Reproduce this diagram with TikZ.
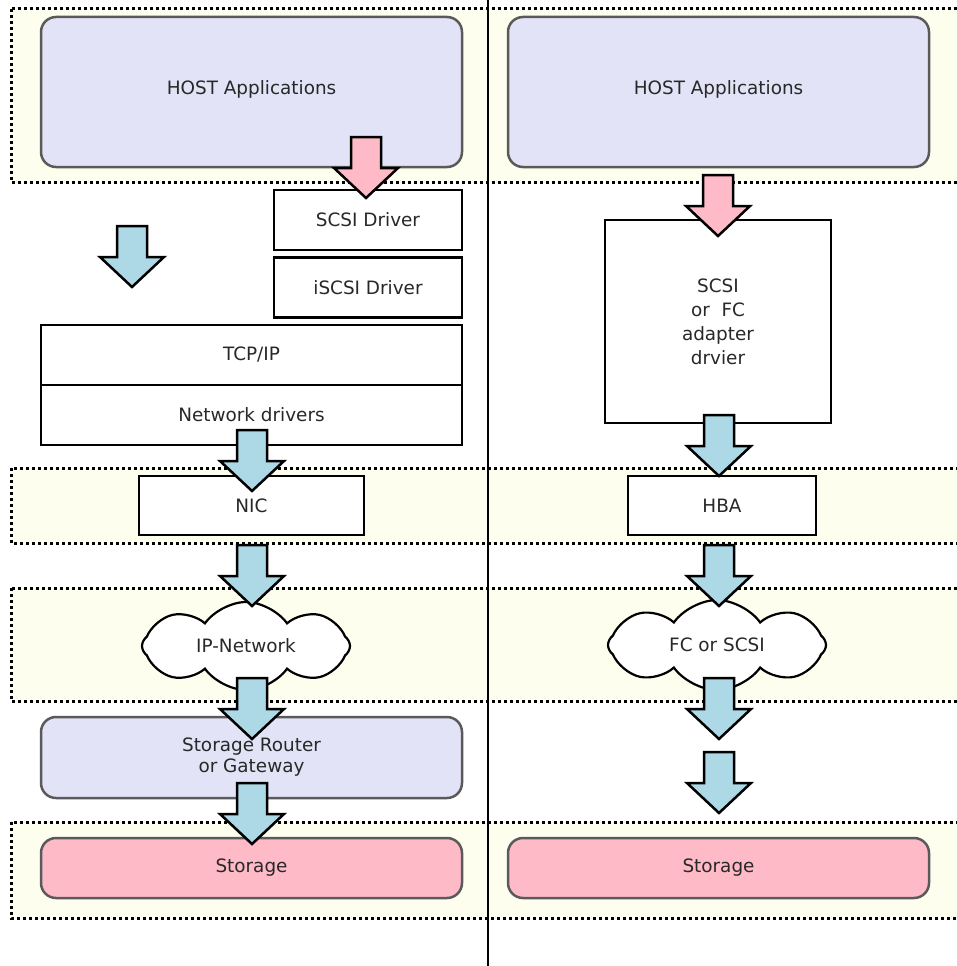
\documentclass[tikz,border=0pt]{standalone}
\usepackage{fontspec}
\setmainfont{DejaVu Sans}
\usetikzlibrary{shapes.symbols}
\definecolor{bandfill}{RGB}{254,254,238}
\definecolor{hostfill}{RGB}{227,227,247}
\definecolor{storefill}{RGB}{255,186,200}
\definecolor{arrowpink}{RGB}{255,186,200}
\definecolor{arrowblue}{RGB}{173,216,230}
\definecolor{roundedge}{RGB}{90,90,90}
\definecolor{labeltext}{RGB}{40,40,40}
\tikzset{
  pics/downarrow/.style={code={
    \draw[line width=2.5pt, fill=#1, miter limit=10]
      (-15,0) -- (15,0) -- (15,31) -- (32,31) -- (0,61) -- (-32,31) -- (-15,31) -- cycle;}}
}
\begin{document}
\begin{tikzpicture}[x=1pt,y=-1pt,
  every node/.style={font=\fontsize{18.4}{21}\selectfont, text=labeltext, inner sep=0pt, outer sep=0pt},
  band/.style={fill=bandfill, draw=black, line width=3pt, dash pattern=on 3pt off 3pt},
  softbox/.style={draw=roundedge, line width=2.5pt, rounded corners=15pt, align=center},
  layerbox/.style={draw=black, line width=2.5pt, fill=white, align=center},
  netcloud/.style={cloud, cloud puffs=8, cloud puff arc=110, aspect=2.4, draw=black, line width=2.2pt, fill=white}
]
\useasboundingbox (0,0) rectangle (957,966);
\fill[white] (0,0) rectangle (957,966);

% layer bands
\path[band] (11,9) rectangle (965,182);
\path[band] (11,468) rectangle (965,543);
\path[band] (11,588) rectangle (965,701);
\path[band] (11,822) rectangle (965,918);

% divider between the two stacks
\coordinate (divtop) at (488,0);
\coordinate (divbot) at (488,966);
\draw[line width=2.5pt] (divtop) -- (divbot);

% iSCSI stack
\node[softbox, fill=hostfill, minimum width=421, minimum height=150] (hostL) at (251.5,92) {\raisebox{8pt}{HOST Applications}};
\node[layerbox, minimum width=188, minimum height=60] (scsiL) at (368,220) {SCSI Driver};
\node[layerbox, minimum width=188, minimum height=60] (iscsiL) at (368,287.5) {iSCSI Driver};
\node[layerbox, minimum width=421, minimum height=60] (tcp) at (251.5,355) {TCP/IP};
\node[layerbox, minimum width=421, minimum height=60] (netdrv) at (251.5,415) {Network drivers};
\node[layerbox, minimum width=225, minimum height=59] (nic) at (251.5,505.5) {NIC};
\node[netcloud, minimum width=208, minimum height=88] (ipnet) at (246,646) {IP-Network};
\node[softbox, fill=hostfill, minimum width=421, minimum height=81] (router) at (251.5,757.5) {Storage Router\\or Gateway};
\node[softbox, fill=storefill, minimum width=421, minimum height=60] (storL) at (251.5,868) {Storage};

% FC / parallel SCSI stack
\node[softbox, fill=hostfill, minimum width=421, minimum height=150] (hostR) at (718.5,92) {\raisebox{8pt}{HOST Applications}};
\node[layerbox, minimum width=226, minimum height=203, font=\fontsize{18.4}{24}\selectfont] (adapter) at (718,321.5) {SCSI\\or~~FC\\adapter\\drvier};
\node[layerbox, minimum width=188, minimum height=59] (hba) at (722,505.5) {HBA};
\node[netcloud, minimum width=218, minimum height=90] (fcnet) at (717,645) {FC or SCSI};
\node[softbox, fill=storefill, minimum width=421, minimum height=60] (storR) at (718.5,868) {Storage};

% data-flow arrows
\pic at (366,137) {downarrow=arrowpink};
\pic at (132,226) {downarrow=arrowblue};
\pic at (252,430) {downarrow=arrowblue};
\pic at (252,545) {downarrow=arrowblue};
\pic at (252,678) {downarrow=arrowblue};
\pic at (252,783) {downarrow=arrowblue};

\pic at (718,175) {downarrow=arrowpink};
\pic at (719,415) {downarrow=arrowblue};
\pic at (719,545) {downarrow=arrowblue};
\pic at (719,678) {downarrow=arrowblue};
\pic at (719,752) {downarrow=arrowblue};
\end{tikzpicture}
\end{document}
